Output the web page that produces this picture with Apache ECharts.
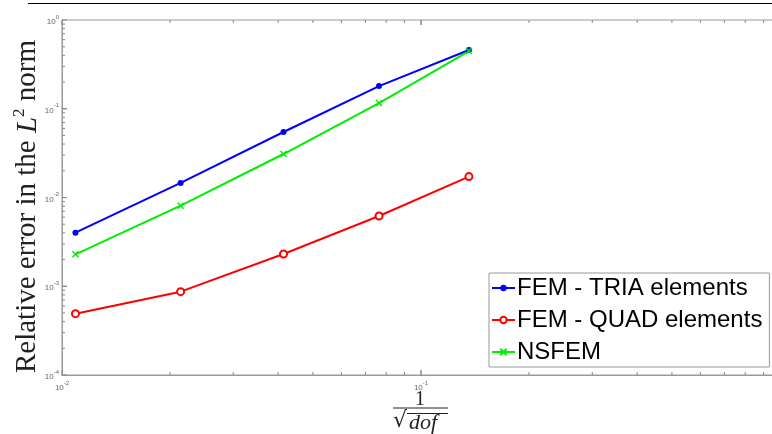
<!DOCTYPE html>
<html>
<head>
<meta charset="utf-8">
<script src="https://cdn.jsdelivr.net/npm/echarts@6/dist/echarts.min.js"></script>
<style>
  html, body { margin: 0; padding: 0; background: #fff; }
  #chart { width: 772px; height: 434px; }
</style>
</head>
<body>
<div id="chart"></div>
<script>
// mesh size 1/sqrt(dof)
var hValues = [0.0109, 0.0214, 0.0414, 0.0764, 0.136];
var femTria = [0.00401, 0.0146, 0.0547, 0.180, 0.459];
var femQuad = [0.000491, 0.000869, 0.00231, 0.00619, 0.0172];
var nsfem = [0.00229, 0.00809, 0.0309, 0.116, 0.447];
var seriesNames = ['FEM - TRIA elements', 'FEM - QUAD elements', 'NSFEM'];

var xMin = 0.01, xMax = 1, yMin = 1e-4, yMax = 1;

// tick positions (major + minor) for the box
var xTicks = [], yTicks = [];
for (var d = xMin; d < xMax * 0.999; d *= 10) {
  for (var k = 1; k <= 10; k++) xTicks.push([d * k, k === 1 || k === 10]);
}
for (var e = yMin; e < yMax * 0.999; e *= 10) {
  for (var j = 1; j <= 10; j++) yTicks.push([e * j, j === 1 || j === 10]);
}

function supLabel(v) {
  var p = Math.round(Math.log10(v));
  return '{b|10}{s|' + p + '}';
}
var labelRich = {
  b: { fontSize: 8, color: '#666', fontFamily: 'Liberation Sans', lineHeight: 12, verticalAlign: 'bottom' },
  s: { fontSize: 6, color: '#666', fontFamily: 'Liberation Sans', lineHeight: 12, verticalAlign: 'top' }
};

var chart = echarts.init(document.getElementById('chart'));

function seg(x1, y1, x2, y2) {
  return { type: 'line', shape: { x1: x1, y1: y1, x2: x2, y2: y2 }, style: { stroke: '#888', lineWidth: 1 } };
}

var option = {
  animation: false,
  backgroundColor: '#fff',
  grid: {
    left: 62, top: 20, right: -8, bottom: 59,
    outerBoundsMode: 'none', containLabel: false,
    show: true, borderColor: '#999', borderWidth: 1
  },
  xAxis: {
    type: 'log', min: xMin, max: xMax, logBase: 10,
    axisLine: { lineStyle: { color: '#999' } },
    axisTick: { show: false },
    splitLine: { show: false },
    axisLabel: { formatter: supLabel, rich: labelRich, margin: 5, hideOverlap: false }
  },
  yAxis: {
    type: 'log', min: yMin, max: yMax, logBase: 10,
    axisLine: { show: true, lineStyle: { color: '#999' } },
    axisTick: { show: false },
    splitLine: { show: false },
    axisLabel: { formatter: supLabel, rich: labelRich, margin: 3 },
    name: 'Relative error in the {i|L}{s|2} norm',
    nameLocation: 'middle',
    nameMoveOverlap: false,
    nameGap: 19,
    nameTextStyle: {
      fontFamily: 'Liberation Serif', fontSize: 29, color: '#222',
      padding: [0, 18, 0, 0],
      rich: {
        i: { fontFamily: 'Liberation Serif', fontStyle: 'italic', fontSize: 29, color: '#222', verticalAlign: 'bottom', lineHeight: 32 },
        s: { fontFamily: 'Liberation Serif', fontSize: 17, color: '#222', verticalAlign: 'top', lineHeight: 32 }
      }
    }
  },
  legend: {
    data: seriesNames,
    orient: 'vertical',
    left: 489, top: 273,
    backgroundColor: '#fff',
    borderColor: '#999', borderWidth: 1, borderRadius: 0,
    padding: [3, 7, 3, 2],
    itemGap: 8,
    itemWidth: 23, itemHeight: 8,
    textStyle: { fontFamily: 'Liberation Sans', fontSize: 24, color: '#000', padding: [0, 0, 0, -3] }
  },
  series: [
    {
      name: seriesNames[0], type: 'line',
      data: hValues.map(function (h, i) { return [h, femTria[i]]; }),
      lineStyle: { color: '#0000ff', width: 2 },
      itemStyle: { color: '#0000ff' },
      symbol: 'circle', symbolSize: 6
    },
    {
      name: seriesNames[1], type: 'line',
      data: hValues.map(function (h, i) { return [h, femQuad[i]]; }),
      lineStyle: { color: '#ff0000', width: 2 },
      itemStyle: { color: '#ff0000', borderWidth: 1.5 },
      symbol: 'emptyCircle', symbolSize: 7
    },
    {
      name: seriesNames[2], type: 'line',
      data: hValues.map(function (h, i) { return [h, nsfem[i]]; }),
      lineStyle: { color: '#00ee00', width: 2 },
      itemStyle: { color: '#00ee00', borderColor: '#00ee00', borderWidth: 1.5 },
      symbol: 'path://M0,0L10,10M10,0L0,10', symbolSize: 6
    },
    {
      type: 'custom', silent: true, clip: false, z: 1,
      data: xTicks.map(function (t) { return [t[0], yMin, t[1] ? 1 : 0]; }),
      renderItem: function (params, api) {
        var len = api.value(2) ? 5 : 3;
        var b = api.coord([api.value(0), yMin]);
        var t = api.coord([api.value(0), yMax]);
        return { type: 'group', children: [seg(b[0], b[1], b[0], b[1] - len), seg(t[0], t[1], t[0], t[1] + len)] };
      }
    },
    {
      type: 'custom', silent: true, clip: false, z: 1,
      data: yTicks.map(function (t) { return [xMin, t[0], t[1] ? 1 : 0]; }),
      renderItem: function (params, api) {
        var len = api.value(2) ? 5 : 3;
        var l = api.coord([xMin, api.value(1)]);
        var r = api.coord([xMax, api.value(1)]);
        return { type: 'group', children: [seg(l[0], l[1], l[0] + len, l[1]), seg(r[0], r[1], r[0] - len, r[1])] };
      }
    }
  ],
  graphic: [
    { type: 'line', shape: { x1: 28, y1: 3.5, x2: 772, y2: 3.5 }, style: { stroke: '#000', lineWidth: 1 } },
    { type: 'text', left: 415, top: 390, style: { text: '1', fontFamily: 'Liberation Serif', fontSize: 20, fill: '#222' } },
    { type: 'line', shape: { x1: 393, y1: 408, x2: 448, y2: 408 }, style: { stroke: '#222', lineWidth: 1.2 } },
    { type: 'text', left: 393, top: 410, style: { text: '√', fontFamily: 'DejaVu Serif', fontSize: 22, fill: '#222' } },
    { type: 'line', shape: { x1: 407, y1: 413.5, x2: 448, y2: 413.5 }, style: { stroke: '#222', lineWidth: 1 } },
    { type: 'text', left: 409, top: 412, style: { text: 'dof', fontFamily: 'Liberation Serif', fontStyle: 'italic', fontSize: 22, fill: '#222' } }
  ]
};

chart.setOption(option);
</script>
</body>
</html>
